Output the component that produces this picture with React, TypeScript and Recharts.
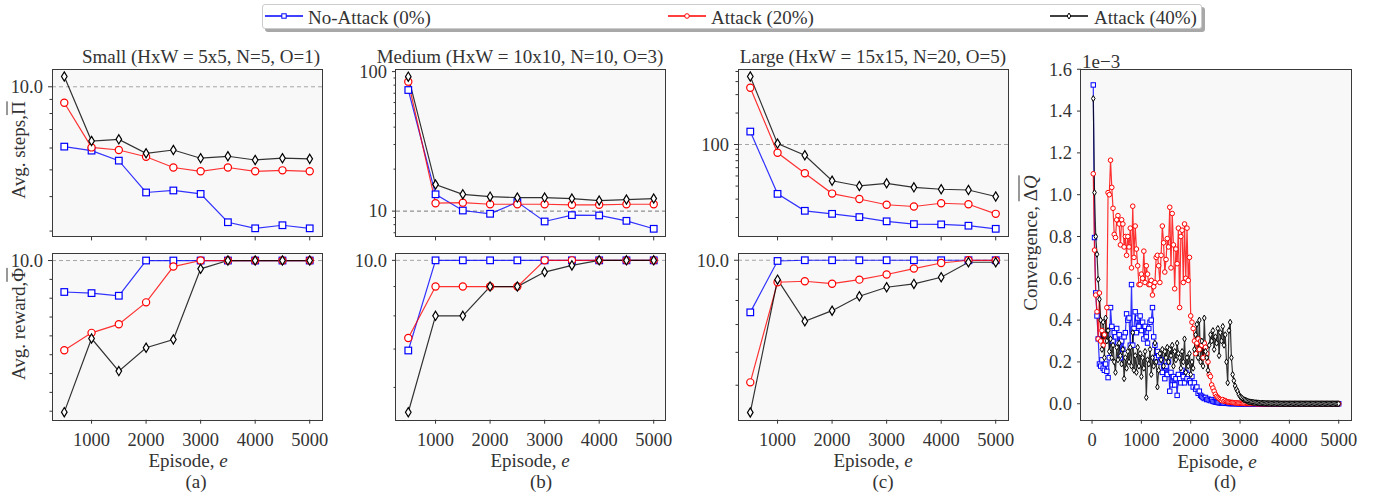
import React from "react";
import { LineChart, Line, XAxis, YAxis, ReferenceLine } from "recharts";

const FONT = '"Liberation Serif", "Times New Roman", "DejaVu Serif", serif';
const INK = "#333333";
const BLUE = "#0000ff";
const RED = "#ff0000";
const BLACK = "#000000";

// ---- panels (a)-(c): x = episode ----
const episodes = [500, 1000, 1500, 2000, 2500, 3000, 3500, 4000, 4500, 5000];

// (a) Small
const smallStepsNoAttack = [6.07, 5.87, 5.4, 4.14, 4.21, 4.09, 3.23, 3.07, 3.15, 3.07];
const smallStepsAttack20 = [8.75, 6.03, 5.9, 5.58, 5.1, 4.94, 5.1, 4.94, 4.98, 4.94];
const smallStepsAttack40 = [10.9, 6.36, 6.45, 5.74, 5.9, 5.51, 5.6, 5.43, 5.51, 5.48];
const smallRewardNoAttack = [9.833, 9.827, 9.813, 10, 10, 10, 10, 10, 10, 10];
const smallRewardAttack20 = [9.524, 9.616, 9.662, 9.778, 9.968, 10, 10, 10, 10, 10];
const smallRewardAttack40 = [9.195, 9.586, 9.413, 9.537, 9.581, 9.956, 10, 10, 10, 10];

// (b) Medium
const mediumStepsNoAttack = [73.8, 13.2, 10.1, 9.57, 11.6, 8.43, 9.36, 9.31, 8.52, 7.47];
const mediumStepsAttack20 = [84.7, 11.4, 11.5, 11.2, 11.2, 11.2, 11.1, 11.1, 11.2, 11.2];
const mediumStepsAttack40 = [92, 15.5, 13.2, 12.7, 12.5, 12.5, 12.3, 11.9, 12.1, 12.3];
const mediumRewardNoAttack = [6.96, 10, 10, 10, 10, 10, 10, 10, 10, 10];
const mediumRewardAttack20 = [7.32, 9.0, 9.0, 9.0, 9.0, 10, 10, 10, 10, 10];
const mediumRewardAttack40 = [5.43, 8.0, 8.0, 9.0, 9.0, 9.54, 9.8, 10, 10, 10];

// (c) Large
const largeStepsNoAttack = [133, 33.7, 23.2, 21.7, 20.2, 18.4, 17.3, 17.2, 16.7, 15.6];
const largeStepsAttack20 = [349, 83.3, 53, 33.9, 30.1, 26.5, 25.5, 27.4, 26.8, 21.7];
const largeStepsAttack40 = [448, 102, 79, 45, 40.1, 42.5, 38.9, 37.3, 36.7, 31.8];
const largeRewardNoAttack = [7.49, 9.96, 10, 10, 10, 10, 10, 10, 10, 10];
const largeRewardAttack20 = [5.08, 8.85, 8.9, 8.78, 8.98, 9.24, 9.55, 9.85, 10, 9.99];
const largeRewardAttack40 = [4.3, 8.98, 7.13, 7.56, 8.19, 8.61, 8.77, 9.1, 9.89, 9.89];

// ---- panel (d): convergence, every 25 episodes, values in 1e-3 ----
const convEpisodes = Array.from({ length: 200 }, (_, i) => 25 * (i + 1));

const convNoAttack = [
  1.525, 0.795, 0.53, 0.42, 0.31, 0.19, 0.18, 0.21, 0.17, 0.16,
  0.19, 0.155, 0.125, 0.22, 0.46, 0.37, 0.3, 0.34, 0.32, 0.36,
  0.29, 0.33, 0.22, 0.3, 0.26, 0.32, 0.34, 0.43, 0.4, 0.41,
  0.28, 0.57, 0.28, 0.36, 0.44, 0.34, 0.41, 0.37, 0.42, 0.35,
  0.39, 0.31, 0.37, 0.32, 0.29, 0.36, 0.39, 0.4, 0.46, 0.32,
  0.28, 0.22, 0.25, 0.23, 0.2, 0.21, 0.15, 0.18, 0.12, 0.18,
  0.14, 0.2, 0.06, 0.15, 0.09, 0.13, 0.09, 0.12, 0.04, 0.14,
  0.12, 0.1, 0.16, 0.13, 0.1, 0.15, 0.12, 0.14, 0.11, 0.1,
  0.13, 0.08, 0.1, 0.07, 0.08, 0.05, 0.06, 0.04, 0.035, 0.03,
  0.025, 0.03, 0.02, 0.022, 0.018, 0.015, 0.02, 0.012, 0.01, 0.008,
  0.008, 0.006, 0.005, 0.004, 0.004, 0.003, 0.003, 0.002, 0.002, 0.002,
  0.001, 0.001, 0.001, 0.001, 0.001, 0.001, 0, 0.001, 0, 0,
  0, 0, 0, 0, 0, 0, 0, 0, 0, 0,
  0, 0, 0, 0, 0, 0, 0, 0, 0, 0,
  0, 0, 0, 0, 0, 0, 0, 0, 0, 0,
  0, 0, 0, 0, 0, 0, 0, 0, 0, 0,
  0, 0, 0, 0, 0, 0, 0, 0, 0, 0,
  0, 0, 0, 0, 0, 0, 0, 0, 0, 0,
  0, 0, 0, 0, 0, 0, 0, 0, 0, 0,
  0, 0, 0, 0, 0, 0, 0, 0, 0, 0,
];

const convAttack20 = [
  1.1, 0.735, 0.52, 0.44, 0.31, 0.53, 0.3, 0.35, 0.28, 0.33,
  0.3, 0.46, 1.01, 1.0, 1.165, 1.035, 0.935, 0.81, 0.795, 0.88,
  0.9, 0.86, 0.76, 0.88, 0.86, 0.75, 0.8, 0.71, 0.8, 0.75,
  0.84, 0.65, 0.945, 0.7, 0.85, 0.74, 0.66, 0.57, 0.57, 0.62,
  0.6, 0.73, 0.58, 0.66, 0.62, 0.57, 0.57, 0.59, 0.52, 0.56,
  0.58, 0.7, 0.71, 0.66, 0.58, 0.71, 0.85, 0.77, 0.63, 0.69,
  0.79, 0.75, 0.94, 0.65, 0.91, 0.76, 0.55, 0.74, 0.67, 0.84,
  0.46, 0.8, 0.83, 0.58, 0.86, 0.6, 0.84, 0.59, 0.7, 0.42,
  0.39, 0.36, 0.3, 0.24, 0.29, 0.31, 0.26, 0.3, 0.28, 0.22,
  0.29, 0.27, 0.24, 0.2, 0.14, 0.13, 0.09, 0.075, 0.06, 0.045,
  0.035, 0.03, 0.025, 0.02, 0.015, 0.02, 0.012, 0.015, 0.01, 0.009,
  0.008, 0.007, 0.006, 0.006, 0.005, 0.004, 0.004, 0.003, 0.003, 0.002,
  0.002, 0.002, 0.002, 0.001, 0.001, 0.001, 0.001, 0.001, 0.001, 0.001,
  0.001, 0.001, 0, 0, 0, 0, 0, 0, 0, 0,
  0, 0, 0, 0, 0, 0, 0, 0, 0, 0,
  0, 0, 0, 0, 0, 0, 0, 0, 0, 0,
  0, 0, 0, 0, 0, 0, 0, 0, 0, 0,
  0, 0, 0, 0, 0, 0, 0, 0, 0, 0,
  0, 0, 0, 0, 0, 0, 0, 0, 0, 0,
  0, 0, 0, 0, 0, 0, 0, 0, 0, 0,
];

const convAttack40 = [
  1.46, 1.01, 0.8, 0.715, 0.595, 0.5, 0.4, 0.26, 0.39, 0.22,
  0.41, 0.3, 0.35, 0.25, 0.31, 0.22, 0.28, 0.2, 0.15, 0.27,
  0.21, 0.29, 0.23, 0.19, 0.26, 0.12, 0.22, 0.17, 0.25, 0.2,
  0.27, 0.18, 0.34, 0.16, 0.23, 0.15, 0.27, 0.18, 0.24, 0.13,
  0.22, 0.17, 0.25, 0.03, 0.21, 0.19, 0.26, 0.14, 0.22, 0.18,
  0.29, 0.2, 0.08, 0.16, 0.24, 0.21, 0.26, 0.18, 0.25, 0.22,
  0.27, 0.2, 0.26, 0.23, 0.28, 0.18, 0.25, 0.21, 0.29, 0.24,
  0.22, 0.17, 0.25, 0.2, 0.31, 0.15, 0.22, 0.18, 0.24, 0.14,
  0.2, 0.17, 0.26, 0.33, 0.38, 0.22, 0.4, 0.2, 0.3, 0.18,
  0.41, 0.25, 0.22, 0.16, 0.28, 0.33, 0.3, 0.35, 0.26, 0.32,
  0.29, 0.36, 0.23, 0.34, 0.3, 0.37, 0.28, 0.33, 0.2, 0.1,
  0.35, 0.39, 0.22, 0.14, 0.11, 0.085, 0.07, 0.06, 0.045, 0.035,
  0.03, 0.025, 0.02, 0.018, 0.015, 0.012, 0.01, 0.009, 0.008, 0.007,
  0.006, 0.005, 0.005, 0.004, 0.004, 0.003, 0.003, 0.003, 0.002, 0.002,
  0.002, 0.002, 0.001, 0.001, 0.001, 0.001, 0.001, 0.001, 0.001, 0.001,
  0.001, 0, 0, 0, 0, 0, 0, 0, 0, 0,
  0, 0, 0, 0, 0, 0, 0, 0, 0, 0,
  0, 0, 0, 0, 0, 0, 0, 0, 0, 0,
  0, 0, 0, 0, 0, 0, 0, 0, 0, 0,
  0, 0, 0, 0, 0, 0, 0, 0, 0, 0,
];

// ticks
const xTicksEp = [1000, 2000, 3000, 4000, 5000];
const xTicksConv = [0, 1000, 2000, 3000, 4000, 5000];
const aTopTicks = [3, 4, 5, 6, 7, 8, 9, 10];
const aBotTicks = [9.2, 9.3, 9.4, 9.5, 9.6, 9.7, 9.8, 9.9, 10];
const bTopTicks = [7, 8, 9, 10, 20, 30, 40, 50, 60, 70, 80, 90, 100];
const bBotTicks = [6, 7, 8, 9, 10];
const cTopTicks = [20, 30, 40, 50, 60, 70, 80, 90, 100, 200, 300, 400, 500];
const cBotTicks = [5, 6, 7, 8, 9, 10];
const dTicks = [0, 0.2, 0.4, 0.6, 0.8, 1.0, 1.2, 1.4, 1.6];

type Shape = "square" | "circle" | "diamond";
type Series = { key: string; color: string; shape: Shape; values: number[] };

const triple = (a: number[], b: number[], c: number[]): Series[] => [
  { key: "noAttack", color: BLUE, shape: "square", values: a },
  { key: "attack20", color: RED, shape: "circle", values: b },
  { key: "attack40", color: BLACK, shape: "diamond", values: c },
];

const makeDot = (shape: Shape, color: string, small: boolean) => (props: any) => {
  const { cx, cy, index } = props;
  const k = `${shape}-${index}`;
  if (cx == null || cy == null) return <g key={k} />;
  const sw = small ? 1 : 1.2;
  if (shape === "square") {
    const s = small ? 4.4 : 6.6;
    return <rect key={k} x={cx - s / 2} y={cy - s / 2} width={s} height={s} fill="#fff" stroke={color} strokeWidth={sw} />;
  }
  if (shape === "circle") {
    const r = small ? 2.3 : 3.6;
    return <circle key={k} cx={cx} cy={cy} r={r} fill="#fff" stroke={color} strokeWidth={sw} />;
  }
  const w = small ? 1.8 : 2.8;
  const h = small ? 3 : 4.6;
  return (
    <polygon
      key={k}
      points={`${cx},${cy - h} ${cx + w},${cy} ${cx},${cy + h} ${cx - w},${cy}`}
      fill="#fff"
      stroke={color}
      strokeWidth={sw}
    />
  );
};

function XTick(props: any) {
  const { x, y, payload, showLabel } = props;
  return (
    <g>
      <line x1={x} x2={x} y1={y} y2={y + 4} stroke={INK} strokeWidth={1} />
      {showLabel && (
        <text x={x} y={y + 26} textAnchor="middle" fontFamily={FONT} fontSize={18.5} fill={INK}>
          {payload.value}
        </text>
      )}
    </g>
  );
}

function YTick(props: any) {
  const { x, y, payload, majors, fmt } = props;
  const major = majors.includes(payload.value);
  return (
    <g>
      <line x1={x} x2={x - (major ? 4 : 2.5)} y1={y} y2={y} stroke={INK} strokeWidth={1} />
      {major && (
        <text x={x - 9} y={y} dy="0.34em" textAnchor="end" fontFamily={FONT} fontSize={18.5} fill={INK}>
          {fmt(payload.value)}
        </text>
      )}
    </g>
  );
}

type PanelProps = {
  left: number;
  top: number;
  width: number;
  height: number;
  xs: number[];
  series: Series[];
  xDomain: [number, number];
  xTicks: number[];
  xLabels: boolean;
  yScale: "log" | "linear";
  yDomain: [number, number];
  yTicks: number[];
  yMajors: number[];
  yFmt: (v: number) => string;
  refY?: number;
  refColor?: string;
  small?: boolean;
};

function Panel(p: PanelProps) {
  const padL = 60;
  const padT = 10;
  const padR = 10;
  const padB = 40;
  const data = p.xs.map((x, i) => {
    const row: Record<string, number> = { x };
    p.series.forEach((s) => {
      row[s.key] = s.values[i];
    });
    return row;
  });
  return (
    <>
      <div style={{ position: "absolute", left: p.left, top: p.top, width: p.width, height: p.height, background: "#f8f8f8" }} />
      <div style={{ position: "absolute", left: p.left - padL, top: p.top - padT }}>
        <LineChart
          width={p.width + padL + padR}
          height={p.height + padT + padB}
          data={data}
          margin={{ top: padT, right: padR, bottom: 0, left: 0 }}
        >
          <XAxis
            dataKey="x"
            type="number"
            domain={p.xDomain}
            ticks={p.xTicks}
            interval={0}
            height={padB}
            axisLine={false}
            tickLine={false}
            tickSize={0}
            tickMargin={0}
            allowDataOverflow
            tick={(tp: any) => <XTick {...tp} showLabel={p.xLabels} />}
          />
          <YAxis
            type="number"
            scale={p.yScale}
            domain={p.yDomain}
            ticks={p.yTicks}
            interval={0}
            width={padL}
            axisLine={false}
            tickLine={false}
            tickSize={0}
            tickMargin={0}
            allowDataOverflow
            tick={(tp: any) => <YTick {...tp} majors={p.yMajors} fmt={p.yFmt} />}
          />
          {p.refY !== undefined && (
            <ReferenceLine y={p.refY} stroke={p.refColor ?? "#a6a6a6"} strokeDasharray="4 3" strokeWidth={1} />
          )}
          {p.series.map((s) => (
            <Line
              key={s.key}
              type="linear"
              dataKey={s.key}
              stroke={s.color}
              strokeOpacity={0.8}
              strokeWidth={1.2}
              dot={makeDot(s.shape, s.color, !!p.small)}
              activeDot={false}
              isAnimationActive={false}
            />
          ))}
        </LineChart>
      </div>
      <div
        style={{
          position: "absolute",
          left: p.left - 0.6,
          top: p.top - 0.6,
          width: p.width + 1.2,
          height: p.height + 1.2,
          border: "1.2px solid #3a3a3a",
          boxSizing: "border-box",
          pointerEvents: "none",
        }}
      />
    </>
  );
}

function Text(props: { x: number; y: number; rotate?: boolean; start?: boolean; size?: number; children: React.ReactNode }) {
  const tx = props.start ? "0" : "-50%";
  return (
    <div
      style={{
        position: "absolute",
        left: props.x,
        top: props.y,
        transform: `translate(${tx},-50%)${props.rotate ? " rotate(-90deg)" : ""}`,
        fontFamily: FONT,
        fontSize: props.size ?? 19,
        lineHeight: 1,
        color: INK,
        whiteSpace: "nowrap",
      }}
    >
      {props.children}
    </div>
  );
}

function LegendIcon({ x, color, shape }: { x: number; color: string; shape: Shape }) {
  const dot = makeDot(shape, color, true);
  return (
    <svg style={{ position: "absolute", left: x, top: 8 }} width={40} height={16}>
      <line x1={0} x2={38} y1={8} y2={8} stroke={color} strokeWidth={1.3} />
      {dot({ cx: 19, cy: 8, index: 0 })}
    </svg>
  );
}

const LEFTS = [52.3, 395.7, 738.3];
const PW = 270;
const TOP_T = 69.3;
const TOP_H = 167.4;
const BOT_T = 253.3;
const BOT_H = 166.7;
const EP_DOMAIN: [number, number] = [275, 5225];

const f1 = (v: number) => v.toFixed(1);
const f0 = (v: number) => String(v);

export default function App() {
  return (
    <div style={{ position: "absolute", left: 0, top: 0, width: 1382, height: 502, background: "#fff", overflow: "hidden" }}>
      {/* legend */}
      <div
        style={{
          position: "absolute",
          left: 262,
          top: 4,
          width: 940,
          height: 25,
          border: "1px solid #cccccc",
          borderRadius: 3,
          background: "#fff",
          boxShadow: "3px 3px 0 #a8a8a8",
          boxSizing: "border-box",
        }}
      />
      <LegendIcon x={265} color={BLUE} shape="square" />
      <Text x={308} y={16.5} start>No-Attack (0%)</Text>
      <LegendIcon x={668} color={RED} shape="circle" />
      <Text x={711} y={16.5} start>Attack (20%)</Text>
      <LegendIcon x={1050} color={BLACK} shape="diamond" />
      <Text x={1094} y={16.5} start>Attack (40%)</Text>

      {/* (a) */}
      <Panel
        left={LEFTS[0]} top={TOP_T} width={PW} height={TOP_H}
        xs={episodes} series={triple(smallStepsNoAttack, smallStepsAttack20, smallStepsAttack40)}
        xDomain={EP_DOMAIN} xTicks={xTicksEp} xLabels={false}
        yScale="log" yDomain={[2.87, 11.6]} yTicks={aTopTicks} yMajors={[10]} yFmt={f1} refY={10}
      />
      <Panel
        left={LEFTS[0]} top={BOT_T} width={PW} height={BOT_H}
        xs={episodes} series={triple(smallRewardNoAttack, smallRewardAttack20, smallRewardAttack40)}
        xDomain={EP_DOMAIN} xTicks={xTicksEp} xLabels
        yScale="linear" yDomain={[9.155, 10.04]} yTicks={aBotTicks} yMajors={[10]} yFmt={f1} refY={10}
      />
      {/* (b) */}
      <Panel
        left={LEFTS[1]} top={TOP_T} width={PW} height={TOP_H}
        xs={episodes} series={triple(mediumStepsNoAttack, mediumStepsAttack20, mediumStepsAttack40)}
        xDomain={EP_DOMAIN} xTicks={xTicksEp} xLabels={false}
        yScale="log" yDomain={[6.59, 104.4]} yTicks={bTopTicks} yMajors={[10, 100]} yFmt={f0} refY={10} refColor="#777777"
      />
      <Panel
        left={LEFTS[1]} top={BOT_T} width={PW} height={BOT_H}
        xs={episodes} series={triple(mediumRewardNoAttack, mediumRewardAttack20, mediumRewardAttack40)}
        xDomain={EP_DOMAIN} xTicks={xTicksEp} xLabels
        yScale="log" yDomain={[5.27, 10.3]} yTicks={bBotTicks} yMajors={[10]} yFmt={f1} refY={10}
      />
      {/* (c) */}
      <Panel
        left={LEFTS[2]} top={TOP_T} width={PW} height={TOP_H}
        xs={episodes} series={triple(largeStepsNoAttack, largeStepsAttack20, largeStepsAttack40)}
        xDomain={EP_DOMAIN} xTicks={xTicksEp} xLabels={false}
        yScale="log" yDomain={[13.2, 528]} yTicks={cTopTicks} yMajors={[100]} yFmt={f0} refY={100}
      />
      <Panel
        left={LEFTS[2]} top={BOT_T} width={PW} height={BOT_H}
        xs={episodes} series={triple(largeRewardNoAttack, largeRewardAttack20, largeRewardAttack40)}
        xDomain={EP_DOMAIN} xTicks={xTicksEp} xLabels
        yScale="log" yDomain={[4.13, 10.41]} yTicks={cBotTicks} yMajors={[10]} yFmt={f1} refY={10}
      />
      {/* (d) */}
      <Panel
        left={1081} top={TOP_T} width={PW} height={420 - TOP_T}
        xs={convEpisodes} series={triple(convNoAttack, convAttack20, convAttack40)}
        xDomain={[-223.75, 5248.75]} xTicks={xTicksConv} xLabels
        yScale="linear" yDomain={[-0.0763, 1.6013]} yTicks={dTicks} yMajors={dTicks} yFmt={f1} small
      />

      {/* titles */}
      <Text x={201} y={56}>Small (HxW = 5x5, N=5, O=1)</Text>
      <Text x={520} y={56}>Medium (HxW = 10x10, N=10, O=3)</Text>
      <Text x={873} y={56}>Large (HxW = 15x15, N=20, O=5)</Text>
      <Text x={1082} y={60.5} start>1e−3</Text>

      {/* y labels */}
      <Text x={18} y={150} rotate>
        Avg. steps,<span style={{ textDecoration: "overline" }}>Π</span>
      </Text>
      <Text x={18} y={324} rotate>
        Avg. reward,<span style={{ textDecoration: "overline" }}>Φ</span>
      </Text>
      <Text x={1030} y={243} rotate>
        Convergence, <span style={{ textDecoration: "overline" }}>Δ<i>Q</i></span>
      </Text>

      {/* x labels */}
      <Text x={188} y={460}>Episode, <i>e</i></Text>
      <Text x={530} y={460}>Episode, <i>e</i></Text>
      <Text x={873} y={460}>Episode, <i>e</i></Text>
      <Text x={1217} y={460.5}>Episode, <i>e</i></Text>

      {/* sub-figure letters */}
      <Text x={196} y={481}>(a)</Text>
      <Text x={541} y={481}>(b)</Text>
      <Text x={883} y={481}>(c)</Text>
      <Text x={1225} y={481}>(d)</Text>
    </div>
  );
}
